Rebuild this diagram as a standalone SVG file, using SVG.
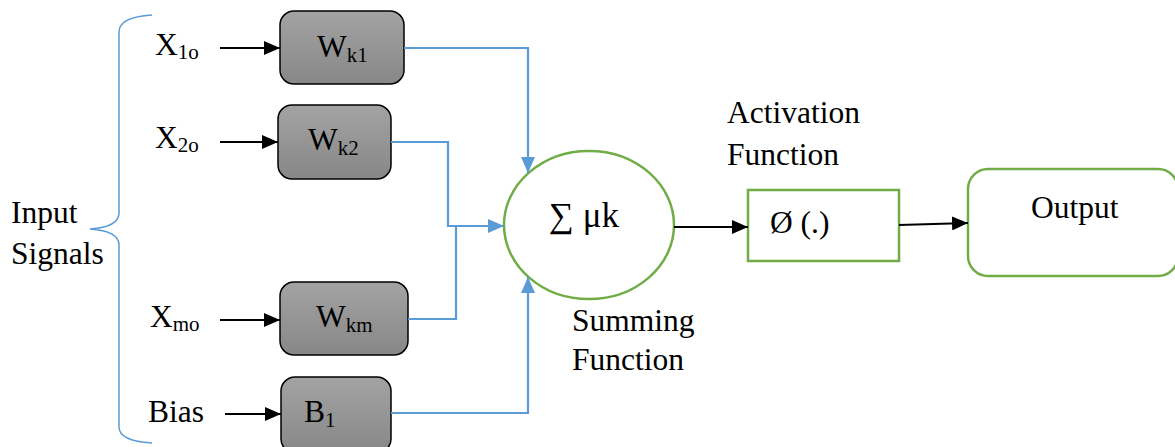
<svg xmlns="http://www.w3.org/2000/svg" width="1175" height="447" viewBox="0 0 1175 447">
  <style>
    .t { font-family: "Liberation Serif", "Times New Roman", serif; font-size: 31.5px; fill: #000; }
    .sub { font-size: 21px; }
    .big { font-size: 35px; }
    .wbox { fill: url(#gray); stroke: #000; stroke-width: 1.5; }
    .green { fill: #fff; stroke: #70ad47; stroke-width: 2.5; }
    .blue { fill: none; stroke: #5b9bd5; stroke-width: 2.2; }
    .black { fill: none; stroke: #000; stroke-width: 2.2; }
  </style>
  <defs>
    <linearGradient id="gray" x1="0" y1="0" x2="0" y2="1">
      <stop offset="0" stop-color="#a3a3a3"/>
      <stop offset="1" stop-color="#878787"/>
    </linearGradient>
    <marker id="ab" markerWidth="16" markerHeight="14" refX="16" refY="7" orient="auto" markerUnits="userSpaceOnUse">
      <path d="M0,0 L16,7 L0,14 Z" fill="#000"/>
    </marker>
    <marker id="ablue" markerWidth="16" markerHeight="14" refX="16" refY="7" orient="auto" markerUnits="userSpaceOnUse">
      <path d="M0,0 L16,7 L0,14 Z" fill="#5b9bd5"/>
    </marker>
  </defs>

  <rect width="1175" height="447" fill="#fff"/>

  <!-- brace grouping the inputs -->
  <g id="brace">
    <path d="M152,15 Q119,17 119,32 L119,213 Q119,227 90,229 Q119,231 119,245 L119,427 Q119,441 152,443" fill="none" stroke="#5b9bd5" stroke-width="1.5"/>
    <text class="t" x="11" y="223">Input</text>
    <text class="t" x="11" y="264">Signals</text>
  </g>

  <!-- input labels -->
  <g id="in1"><text class="t" x="155" y="55">X<tspan class="sub" dy="4">1o</tspan></text></g>
  <g id="in2"><text class="t" x="155" y="148">X<tspan class="sub" dy="4">2o</tspan></text></g>
  <g id="inm"><text class="t" x="150" y="327">X<tspan class="sub" dy="4">mo</tspan></text></g>
  <g id="bias"><text class="t" x="148" y="422">Bias</text></g>

  <!-- weight blocks -->
  <g id="wk1">
    <rect class="wbox" x="280" y="11" width="124" height="73" rx="14"/>
    <text class="t" x="317" y="57">W<tspan class="sub" dy="5">k1</tspan></text>
  </g>
  <g id="wk2">
    <rect class="wbox" x="278" y="105" width="113" height="74" rx="14"/>
    <text class="t" x="308" y="150">W<tspan class="sub" dy="5">k2</tspan></text>
  </g>
  <g id="wkm">
    <rect class="wbox" x="280" y="282" width="128" height="73" rx="14"/>
    <text class="t" x="316" y="327">W<tspan class="sub" dy="5">km</tspan></text>
  </g>
  <g id="b1">
    <rect class="wbox" x="281" y="377" width="110" height="76" rx="14"/>
    <text class="t" x="304" y="422">B<tspan class="sub" dy="5">1</tspan></text>
  </g>

  <!-- summing junction -->
  <g id="sum">
    <ellipse class="green" cx="589" cy="225" rx="85" ry="74"/>
    <text class="t big" x="549" y="227">∑ μk</text>
    <text class="t" x="572" y="331">Summing</text>
    <text class="t" x="572" y="370">Function</text>
  </g>

  <!-- activation -->
  <g id="activation">
    <text class="t" x="727" y="123">Activation</text>
    <text class="t" x="727" y="165">Function</text>
    <rect class="green" x="748" y="190" width="151" height="71"/>
    <text class="t" x="770" y="233">Ø (.)</text>
  </g>

  <!-- output -->
  <g id="output">
    <rect class="green" x="968" y="169" width="210" height="107" rx="20"/>
    <text class="t" x="1031" y="218">Output</text>
  </g>

  <!-- connectors -->
  <g id="connectors">
    <line class="black" x1="220" y1="48" x2="280" y2="48" marker-end="url(#ab)"/>
    <line class="black" x1="220" y1="142" x2="278" y2="142" marker-end="url(#ab)"/>
    <line class="black" x1="220" y1="320" x2="280" y2="320" marker-end="url(#ab)"/>
    <line class="black" x1="225" y1="414" x2="281" y2="414" marker-end="url(#ab)"/>

    <path class="blue" d="M404,48 L528,48 L528,173" marker-end="url(#ablue)"/>
    <path class="blue" d="M391,142 L448,142 L448,226 L504,226" marker-end="url(#ablue)"/>
    <path class="blue" d="M408,319 L456,319 L456,226"/>
    <path class="blue" d="M391,413 L528,413 L528,277" marker-end="url(#ablue)"/>

    <line class="black" x1="674" y1="227" x2="748" y2="227" marker-end="url(#ab)"/>
    <line class="black" x1="899" y1="225" x2="968" y2="223" marker-end="url(#ab)"/>
  </g>
</svg>
